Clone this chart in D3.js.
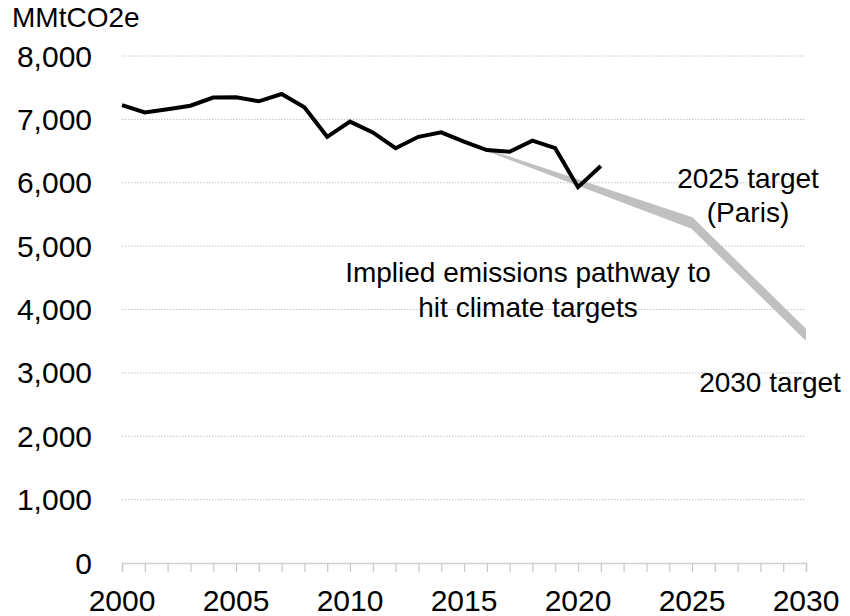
<!DOCTYPE html>
<html><head><meta charset="utf-8">
<script src="https://cdn.jsdelivr.net/npm/d3@7"></script>
<style>
body{margin:0;background:#fff;}
svg{display:block;font-family:"Liberation Sans",Arial,sans-serif;}
</style></head>
<body><svg id="chart" width="850" height="616"></svg>
<script>
const years = [2000,2001,2002,2003,2004,2005,2006,2007,2008,2009,2010,2011,2012,2013,2014,2015,2016,2017,2018,2019,2020,2021];
const emissions = [7225,7110,7160,7215,7345,7350,7285,7400,7190,6725,6965,6795,6545,6725,6795,6650,6515,6490,6665,6545,5930,6265];
const pathYears = [2016,2025,2030];
const pathUpper = [6515,5440,3674];
const pathLower = [6515,5290,3527];
const yTicks = [0,1000,2000,3000,4000,5000,6000,7000,8000];
const xTickLabels = [2000,2005,2010,2015,2020,2025,2030];
const unitLabel = "MMtCO2e";

const svg = d3.select("#chart");
const x = d3.scaleLinear().domain([2000,2030]).range([122,806]);
const y = d3.scaleLinear().domain([0,8000]).range([563,56]);

svg.append("defs").append("clipPath").attr("id","plotclip")
  .append("rect").attr("x",x(2000)).attr("y",0).attr("width",x(2030)-x(2000)).attr("height",y(0));

// gridlines
svg.append("g").selectAll("line").data(yTicks.filter(d=>d>0)).join("line")
  .attr("x1",x(2000)).attr("x2",x(2030))
  .attr("y1",d=>y(d)).attr("y2",d=>y(d))
  .attr("stroke","#c4c4c4").attr("stroke-width",1).attr("stroke-dasharray","1.5,1.5");

// x axis
const xAxis = d3.axisBottom(x).tickValues(d3.range(2000,2031)).tickSize(9).tickFormat("");
const gx = svg.append("g").attr("transform",`translate(0,${y(0)})`).call(xAxis);
gx.select(".domain").attr("stroke","#d0d0d0").attr("stroke-width",1.5);
gx.selectAll(".tick line").attr("stroke","#c8c8c8").attr("stroke-width",1.2);
svg.append("g").selectAll("text").data(xTickLabels).join("text")
  .attr("x",d=>x(d)).attr("y",611).attr("text-anchor","middle")
  .attr("font-size",30).attr("fill","#000").text(d=>d);

// y labels
svg.append("g").selectAll("text").data(yTicks).join("text")
  .attr("x",92).attr("y",d=>y(d)+10.5).attr("text-anchor","end")
  .attr("font-size",30).attr("fill","#000").text(d=>d3.format(",")(d));

svg.append("text").attr("x",12).attr("y",27).attr("font-size",28).attr("fill","#000").text(unitLabel);

// pathway band
const band = pathYears.map((d,i)=>({year:d,hi:pathUpper[i],lo:pathLower[i]}));
svg.append("path").datum(band).attr("clip-path","url(#plotclip)")
  .attr("d",d3.area().x(d=>x(d.year)).y0(d=>y(d.lo)).y1(d=>y(d.hi)))
  .attr("fill","#c0c0c0").attr("stroke","#c0c0c0").attr("stroke-width",2).attr("stroke-linejoin","round");

// emissions line
const data = years.map((d,i)=>({year:d,v:emissions[i]}));
svg.append("path").datum(data)
  .attr("d",d3.line().x(d=>x(d.year)).y(d=>y(d.v)))
  .attr("fill","none").attr("stroke","#000").attr("stroke-width",4).attr("stroke-linejoin","miter");

// annotations
const ann = svg.append("g").attr("font-size",28).attr("fill","#000").attr("text-anchor","middle");
ann.append("text").attr("x",748).attr("y",188).text("2025 target");
ann.append("text").attr("x",748).attr("y",222).text("(Paris)");
ann.append("text").attr("x",528).attr("y",282).text("Implied emissions pathway to");
ann.append("text").attr("x",528).attr("y",317).text("hit climate targets");
ann.append("text").attr("x",770).attr("y",392).text("2030 target");
</script></body></html>
